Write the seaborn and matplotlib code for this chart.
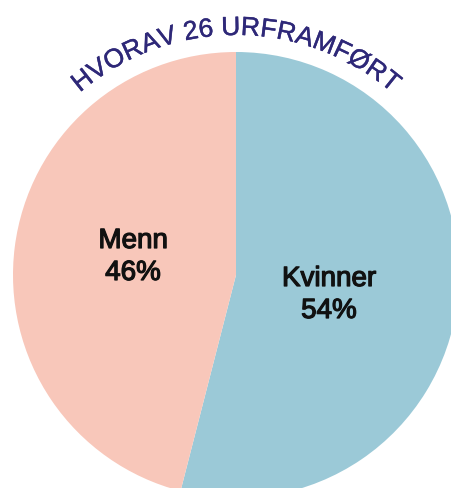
"""Pie chart: share of women and men among 26 world premieres."""

import matplotlib

matplotlib.use("Agg")
import matplotlib.patheffects as pe
import matplotlib.pyplot as plt
import numpy as np
import seaborn as sns
from matplotlib.font_manager import FontProperties, findfont
from matplotlib.ft2font import FT2Font

# Data
CATEGORIES = ["Kvinner", "Menn"]
SHARES = [54, 46]
TITLE = "HVORAV 26 URFRAMFØRT"

COLORS = ["#9BC9D7", "#F8C7BA"]
TITLE_COLOR = "#2E2878"
FONT = "Liberation Sans"

W, H = 451, 488
CENTER = (236, H - 275)
RADIUS = 223


def char_advances(text: str, size_pt: float, dpi: int = 100) -> list[float]:
    """Advance widths (px) of each character in the given font."""
    font = FT2Font(findfont(FontProperties(family=FONT)))
    font.set_size(size_pt, dpi)
    return [font.load_char(ord(c)).linearHoriAdvance / 65536 for c in text]


def draw_arc_text(ax, text: str, radius: float, size_pt: float) -> None:
    """Write text along a circular arc centred on the top of the pie."""
    advances = char_advances(text, size_pt)
    total = sum(advances)
    start = np.pi / 2 + (total / 2) / radius
    pos = 0.0
    for char, adv in zip(text, advances):
        theta = start - (pos + adv / 2) / radius
        pos += adv
        if char == " ":
            continue
        ax.text(
            CENTER[0] + radius * np.cos(theta),
            CENTER[1] + radius * np.sin(theta),
            char,
            rotation=np.degrees(theta) - 90,
            rotation_mode="anchor",
            ha="center",
            va="baseline",
            fontsize=size_pt,
            family=FONT,
            color=TITLE_COLOR,
            path_effects=[pe.withStroke(linewidth=0.3, foreground=TITLE_COLOR)],
        )


def main() -> None:
    sns.set_theme(style="white")
    plt.rcParams["font.family"] = [FONT, "DejaVu Sans"]

    fig = plt.figure(figsize=(W / 100, H / 100), dpi=100)
    ax = fig.add_axes([0, 0, 1, 1])
    ax.pie(
        SHARES,
        colors=sns.color_palette(COLORS),
        startangle=90,
        counterclock=False,
        center=CENTER,
        radius=RADIUS,
        wedgeprops={"linewidth": 0},
    )
    ax.set_xlim(0, W)
    ax.set_ylim(0, H)
    ax.set_aspect("equal")
    ax.axis("off")

    label_pos = {"Kvinner": (329, H - 295), "Menn": (133, H - 257)}
    for name, share in zip(CATEGORIES, SHARES):
        x, y = label_pos[name]
        ax.text(
            x,
            y,
            f"{name}\n{share}%",
            ha="center",
            va="center",
            fontsize=20,
            color="#111111",
            linespacing=1.3,
            path_effects=[pe.withStroke(linewidth=0.9, foreground="#111111")],
        )

    draw_arc_text(ax, TITLE, radius=240, size_pt=19)

    fig.savefig("out.png", dpi=100)
    plt.close(fig)


if __name__ == "__main__":
    main()
